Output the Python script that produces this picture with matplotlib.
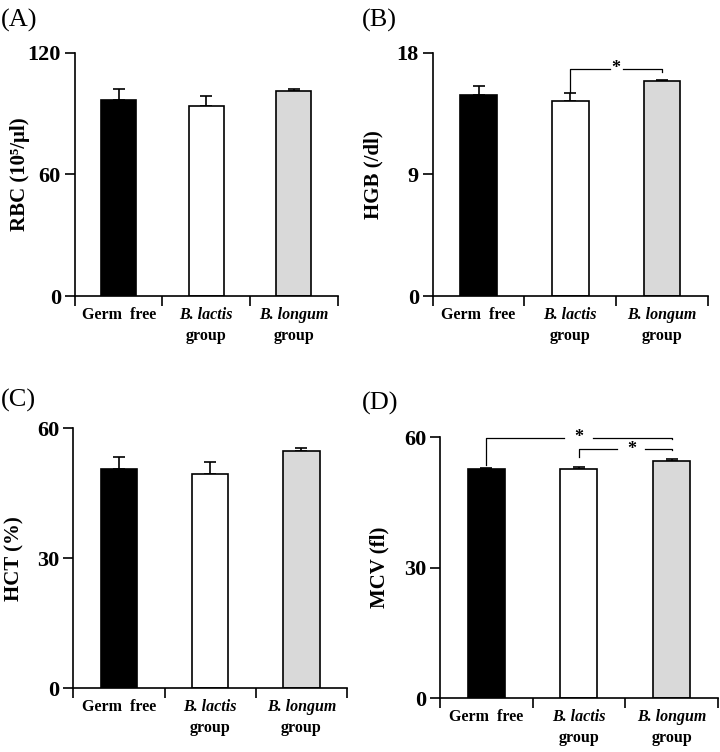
import matplotlib
matplotlib.use('Agg')
import matplotlib.pyplot as plt
import matplotlib.transforms as mtransforms

plt.rcParams['font.family'] = ['Liberation Serif', 'DejaVu Serif']

# group labels (first line); italic ones get a second "group" line
group_names = ['Germ  free', 'B. lactis', 'B. longum']
group_italic = [False, True, True]
bar_colors = ['black', 'white', '#d9d9d9']

# values (mean, upper error)
rbc_mean = [96.7, 93.9, 101.0]
rbc_err = [5.4, 4.5, 1.1]
hgb_mean = [14.9, 14.4, 15.9]
hgb_err = [0.6, 0.65, 0.1]
hct_mean = [50.6, 49.4, 54.8]
hct_err = [2.8, 2.7, 0.5]
mcv_mean = [52.7, 52.6, 54.5]
mcv_err = [0.2, 0.6, 0.6]

fig = plt.figure(figsize=(7.2, 7.52), dpi=100)


def panel(rect, means, errs, ymax, yticks, ylabel, label_x):
    ax = fig.add_axes(rect)
    x = list(range(len(means)))
    ax.bar(x, means, width=0.4, color=bar_colors, edgecolor='black', linewidth=1.2, zorder=2)
    ax.errorbar(x, means, yerr=[[0] * len(errs), errs], fmt='none', ecolor='black',
                elinewidth=1.2, capsize=4.5, capthick=1.2, zorder=1)
    ax.set_xlim(-0.5, 2.5)
    ax.set_ylim(0, ymax)
    ax.set_yticks(yticks)
    ax.set_yticklabels([str(t) for t in yticks], fontsize=16, fontweight='bold')
    ax.set_xticks([-0.5, 0.5, 1.5, 2.5])
    ax.set_xticklabels([])
    ax.tick_params(direction='out', length=7, width=1.2, pad=3)
    for s in ['top', 'right']:
        ax.spines[s].set_visible(False)
    for s in ['left', 'bottom']:
        ax.spines[s].set_linewidth(1.2)
    ax.set_ylabel(ylabel, fontsize=15, fontweight='bold')
    ax.yaxis.set_label_coords(label_x, 0.5)

    # category labels under the axis
    trans = mtransforms.blended_transform_factory(ax.transData, ax.transAxes)
    off1 = mtransforms.offset_copy(trans, fig=fig, x=0, y=-19, units='dots')
    off2 = mtransforms.offset_copy(trans, fig=fig, x=0, y=-40, units='dots')
    for i, name in enumerate(group_names):
        ax.text(i, 0, name, transform=off1, ha='center', va='center', fontsize=11.5,
                fontweight='bold', fontstyle='italic' if group_italic[i] else 'normal')
        if group_italic[i]:
            ax.text(i, 0, 'group', transform=off2, ha='center', va='center',
                    fontsize=11.5, fontweight='bold')
    return ax


def bracket(ax, x1, x2, y, y1, y2, xs, gap):
    kw = dict(color='black', linewidth=0.9, clip_on=False)
    ax.plot([x1, x1, xs - gap[0]], [y1, y, y], **kw)
    ax.plot([xs + gap[1], x2, x2], [y, y, y2], **kw)
    ax.text(xs, y, '*', ha='center', va='center', fontsize=13, fontweight='bold')


axA = panel([0.104, 0.606, 0.365, 0.324], rbc_mean, rbc_err, 120, [0, 60, 120],
            'RBC (10⁵/μl)', -0.17)
axB = panel([0.601, 0.606, 0.382, 0.324], hgb_mean, hgb_err, 18, [0, 9, 18],
            'HGB (/dl)', -0.18)
axC = panel([0.102, 0.0847, 0.380, 0.346], hct_mean, hct_err, 60, [0, 30, 60],
            'HCT (%)', -0.18)
axD = panel([0.611, 0.0715, 0.386, 0.347], mcv_mean, mcv_err, 60, [0, 30, 60],
            'MCV (fl)', -0.18)

bracket(axB, 1, 2, 16.8, 15.1, 16.6, 1.5, (0.07, 0.08))
bracket(axD, 0, 2, 59.9, 53.6, 59.6, 1.0, (0.16, 0.15))
bracket(axD, 1, 2, 57.3, 55.5, 57.0, 1.57, (0.16, 0.14))

# panel letters
for letter, (px, py) in zip(['(A)', '(B)', '(C)', '(D)'],
                            [(1, 20), (362, 20), (1, 400), (362, 403)]):
    fig.text(px / 720, 1 - py / 752, letter, fontsize=19, ha='left', va='center')

plt.savefig('out.png', dpi=100)
